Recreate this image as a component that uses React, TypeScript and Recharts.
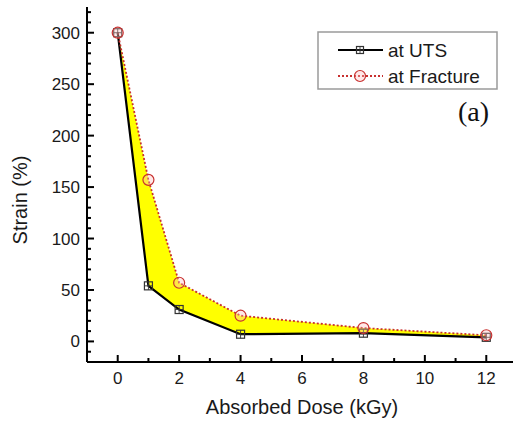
import React from 'react';
import { ComposedChart, Line, Area, XAxis, YAxis, Customized } from 'recharts';

// ---- data ----
const doses = [0, 1, 2, 4, 8, 12];
const strainUTS = [300, 54, 31, 7, 8, 4];
const strainFracture = [300, 157, 57, 25, 13, 6];
const seriesNames = ['at UTS', 'at Fracture'];
const panelLabel = '(a)';
const xTitle = 'Absorbed Dose (kGy)';
const yTitle = 'Strain (%)';
const xTicks = [0, 1, 2, 3, 4, 5, 6, 7, 8, 9, 10, 11, 12];
const xMajor = [0, 2, 4, 6, 8, 10, 12];
const yTicks = [-10, 0, 10, 20, 30, 40, 50, 60, 70, 80, 90, 100, 110, 120, 130, 140, 150, 160, 170, 180, 190, 200, 210, 220, 230, 240, 250, 260, 270, 280, 290, 300, 310, 320];
const yMajor = [0, 50, 100, 150, 200, 250, 300];

const data = doses.map((d, i) => ({
  dose: d,
  uts: strainUTS[i],
  frac: strainFracture[i],
  band: [strainUTS[i], strainFracture[i]],
}));

const FONT = '"Liberation Sans", Arial, Helvetica, sans-serif';
const TICK_COLOR = '#1a1a1a';
const RED = '#c8302f';
const MAJOR = 7;
const MINOR = 4;

const BottomTick = (props: any) => {
  const { x, y, payload } = props;
  const v = payload.value;
  const major = xMajor.includes(v);
  return (
    <g>
      <line x1={x} y1={y} x2={x} y2={y - (major ? MAJOR : MINOR)} stroke="#000" strokeWidth={2} />
      {major && (
        <text x={x} y={y + 22} textAnchor="middle" fontFamily={FONT} fontSize={17} fill={TICK_COLOR}>
          {v}
        </text>
      )}
    </g>
  );
};

const TopTick = (props: any) => {
  const { x, y, payload } = props;
  const major = xMajor.includes(payload.value);
  return <line x1={x} y1={y} x2={x} y2={y + (major ? MAJOR : MINOR)} stroke="#000" strokeWidth={2} />;
};

const LeftTick = (props: any) => {
  const { x, y, payload } = props;
  const v = payload.value;
  const major = yMajor.includes(v);
  return (
    <g>
      <line x1={x} y1={y} x2={x + (major ? MAJOR : MINOR)} y2={y} stroke="#000" strokeWidth={2} />
      {major && (
        <text x={x - 7} y={y + 6} textAnchor="end" fontFamily={FONT} fontSize={17} fill={TICK_COLOR}>
          {v}
        </text>
      )}
    </g>
  );
};

const RightTick = (props: any) => {
  const { x, y, payload } = props;
  const major = yMajor.includes(payload.value);
  return <line x1={x} y1={y} x2={x - (major ? MAJOR : MINOR)} y2={y} stroke="#555" strokeWidth={2} />;
};

const SquareMark = ({ cx, cy, color, s = 4 }: any) => (
  <g>
    <rect x={cx - s} y={cy - s} width={2 * s} height={2 * s} fill="none" stroke={color} strokeWidth={1.2} />
    <line x1={cx - s} y1={cy} x2={cx + s} y2={cy} stroke={color} strokeWidth={0.9} />
    <line x1={cx} y1={cy - s} x2={cx} y2={cy + s} stroke={color} strokeWidth={0.9} />
  </g>
);

const CircleMark = ({ cx, cy }: any) => (
  <circle cx={cx} cy={cy} r={5.5} fill="rgba(255,190,190,0.35)" stroke={RED} strokeWidth={1.2} />
);

const utsDot = (props: any) => {
  const { cx, cy, index } = props;
  if (cx == null || cy == null) return <g key={`u-${index}`} />;
  return (
    <g key={`u-${index}`}>
      <SquareMark cx={cx} cy={cy} color="#333" />
    </g>
  );
};

const fracDot = (props: any) => {
  const { cx, cy, index } = props;
  if (cx == null || cy == null) return <g key={`f-${index}`} />;
  return (
    <g key={`f-${index}`}>
      <CircleMark cx={cx} cy={cy} />
    </g>
  );
};

const Decorations = () => (
  <g>
    {/* axis titles */}
    <text x={302} y={414} textAnchor="middle" fontFamily={FONT} fontSize={20} fill={TICK_COLOR}>
      {xTitle}
    </text>
    <text
      x={27}
      y={200}
      transform="rotate(-90 27 200)"
      textAnchor="middle"
      fontFamily={FONT}
      fontSize={20}
      fill={TICK_COLOR}
    >
      {yTitle}
    </text>
    {/* legend */}
    <rect x={318} y={32} width={179} height={57} fill="#fff" stroke="#9a9a9a" strokeWidth={1.5} />
    <line x1={338} y1={50} x2={383} y2={50} stroke="#000" strokeWidth={2} />
    <SquareMark cx={360} cy={50} color="#333" s={3.5} />
    <text x={388} y={57} fontFamily={FONT} fontSize={19} fill={TICK_COLOR}>
      {seriesNames[0]}
    </text>
    <line x1={338} y1={76} x2={383} y2={76} stroke={RED} strokeWidth={1.8} strokeDasharray="2 2" />
    <CircleMark cx={360} cy={76} />
    <text x={388} y={83} fontFamily={FONT} fontSize={19} fill={TICK_COLOR}>
      {seriesNames[1]}
    </text>
    <text x={489} y={121} textAnchor="end" fontFamily='"Liberation Serif", "Times New Roman", serif' fontSize={28} fill="#111">
      {panelLabel}
    </text>
  </g>
);

export default function App() {
  return (
    <div style={{ position: 'absolute', left: 0, top: 0, width: 513, height: 426, overflow: 'hidden', background: '#fff' }}>
      <ComposedChart width={530} height={426} data={data} margin={{ top: 7, right: 13, bottom: 0, left: 0 }}>
        <XAxis
          xAxisId="b"
          dataKey="dose"
          type="number"
          domain={[-1, 13]}
          ticks={xTicks}
          interval={0}
          orientation="bottom"
          height={64}
          tickSize={0}
          tickMargin={0}
          tickLine={false}
          axisLine={{ stroke: '#000', strokeWidth: 2 }}
          tick={<BottomTick />}
        />
        <XAxis
          xAxisId="t"
          dataKey="dose"
          type="number"
          domain={[-1, 13]}
          ticks={xTicks}
          interval={0}
          orientation="top"
          height={0}
          tickSize={0}
          tickMargin={0}
          tickLine={false}
          axisLine={{ stroke: '#000', strokeWidth: 2 }}
          tick={<TopTick />}
        />
        <YAxis
          yAxisId="l"
          type="number"
          domain={[-20, 325]}
          ticks={yTicks}
          interval={0}
          orientation="left"
          width={87}
          tickSize={0}
          tickMargin={0}
          tickLine={false}
          axisLine={{ stroke: '#000', strokeWidth: 2 }}
          tick={<LeftTick />}
        />
        <YAxis
          yAxisId="r"
          type="number"
          domain={[-20, 325]}
          ticks={yTicks}
          interval={0}
          orientation="right"
          width={0}
          tickSize={0}
          tickMargin={0}
          tickLine={false}
          axisLine={false}
          tick={<RightTick />}
        />
        <Area
          xAxisId="b"
          yAxisId="l"
          dataKey="band"
          type="linear"
          fill="#ffff00"
          fillOpacity={1}
          stroke="none"
          dot={false}
          activeDot={false}
          isAnimationActive={false}
        />
        <Line
          xAxisId="b"
          yAxisId="l"
          dataKey="uts"
          type="linear"
          stroke="#000"
          strokeWidth={2.2}
          dot={utsDot}
          activeDot={false}
          isAnimationActive={false}
        />
        <Line
          xAxisId="b"
          yAxisId="l"
          dataKey="frac"
          type="linear"
          stroke={RED}
          strokeWidth={1.8}
          strokeDasharray="2 2"
          dot={fracDot}
          activeDot={false}
          isAnimationActive={false}
        />
        <Customized component={Decorations} />
      </ComposedChart>
    </div>
  );
}
